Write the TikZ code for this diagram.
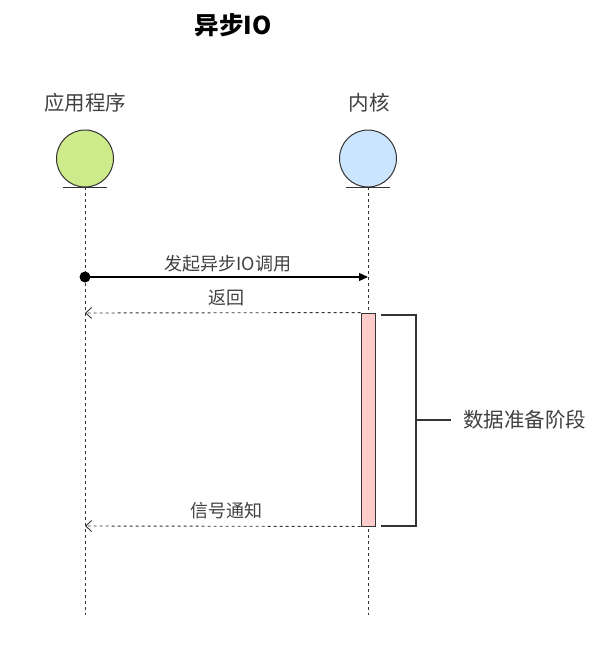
\documentclass[tikz,border=0pt]{standalone}
\usepackage{fontspec}
\setmainfont{Noto Sans CJK SC}
\usetikzlibrary{arrows.meta}
\definecolor{linec}{HTML}{333333}
\definecolor{greenf}{HTML}{CDEB8B}
\definecolor{bluef}{HTML}{CCE5FF}
\definecolor{pinkf}{HTML}{FFCCCC}
\begin{document}
\begin{tikzpicture}[x=1pt,y=-1pt,
  lbl/.style={font=\fontsize{18}{21}\selectfont, text=black!75, inner sep=0pt},
  biglbl/.style={font=\fontsize{20.5}{24}\selectfont, text=black!75, inner sep=0pt},
  actor/.style={circle, draw=linec, line width=1pt, minimum size=57pt, inner sep=0pt},
  life/.style={draw=linec, dashed, dash pattern=on 3pt off 3pt, line width=0.9pt},
  msg/.style={draw=black, line width=1.1pt},
  ret/.style={draw=linec, dashed, dash pattern=on 3pt off 3pt, line width=0.9pt, -{Straight Barb[length=6pt,width=11pt]}},
  brk/.style={draw=linec, line width=2.5pt}]
\useasboundingbox (0,0) rectangle (611,645);
\node[font=\fontsize{24.5}{28}\bfseries\selectfont, inner sep=0pt] (title) at (233,25) {异步IO};
\node[biglbl] (appl) at (85,103) {应用程序};
\node[biglbl] (kerl) at (369,103) {内核};
\node[actor, fill=greenf] (app) at (85,158.5) {};
\node[actor, fill=bluef] (ker) at (368,158.5) {};
\coordinate (appb) at (85,187);
\coordinate (kerb) at (368,187);
\coordinate (appe) at (85,615);
\coordinate (kere) at (368,615);
\draw[draw=linec, line width=1pt] (63,187) -- (107,187);
\draw[draw=linec, line width=1pt] (346,187) -- (390,187);
\draw[life] (appb) -- (appe);
\draw[life] (kerb) -- (kere);
% activation
\node[draw=linec, fill=pinkf, line width=0.9pt, minimum width=14pt, minimum height=213pt, inner sep=0pt] (act) at (368,419.5) {};
% call
\coordinate (c1) at (85,277);
\coordinate (c2) at (368,277);
\fill[black] (c1) circle (5.5pt);
\draw[msg, -{Triangle[length=9pt,width=8pt]}] (c1) -- (c2);
\node[lbl] (l1) at (228,264) {发起异步IO调用};
% returns
\coordinate (r1) at (85,313);
\coordinate (s1) at (85,526);
\draw[ret] (act.north west) -- (r1);
\node[lbl] (l2) at (226,298) {返回};
\draw[ret] (act.south west) -- (s1);
\node[lbl] (l3) at (226,511) {信号通知};
% bracket
\coordinate (b1) at (381,315);
\coordinate (b2) at (416,315);
\coordinate (b3) at (416,526);
\coordinate (b4) at (381,526);
\coordinate (bm) at (416,420);
\coordinate (bs) at (451,420);
\node[biglbl, anchor=west] (phase) at (463,420) {数据准备阶段};
\draw[brk] (b1) -- (b2) -- (b3) -- (b4);
\draw[brk] (bm) -- (bs);
\end{tikzpicture}
\end{document}
